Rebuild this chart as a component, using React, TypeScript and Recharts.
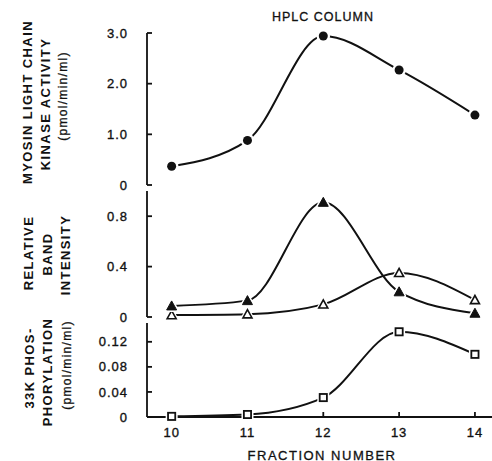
import React from 'react';
import { LineChart, Line, XAxis, YAxis } from 'recharts';

const fractions = [10, 11, 12, 13, 14];
const xTicks = [10, 11, 12, 13, 14];

const kinaseActivity = [0.37, 0.88, 2.94, 2.27, 1.38];
const bandFilled = [0.088, 0.13, 0.91, 0.2, 0.03];
const bandOpen = [0.015, 0.022, 0.1, 0.35, 0.135];
const phos33k = [0.001, 0.004, 0.031, 0.136, 0.1];

const kinaseTicks = [0, 1, 2, 3];
const kinaseTickLabels = ['0', '1.0', '2.0', '3.0'];
const bandTicks = [0, 0.4, 0.8];
const bandTickLabels = ['0', '0.4', '0.8'];
const phosTicks = [0, 0.04, 0.08, 0.12];
const phosTickLabels = ['0', '0.04', '0.08', '0.12'];

const kinaseData = fractions.map((x, i) => ({ x, v: kinaseActivity[i] }));
const bandData = fractions.map((x, i) => ({ x, f: bandFilled[i], o: bandOpen[i] }));
const phosData = fractions.map((x, i) => ({ x, v: phos33k[i] }));

const INK = '#111';
const FONT = '"Liberation Sans", Arial, Helvetica, sans-serif';
const xDomain: [number, number] = [9.675, 14.225];
const axisStroke = { stroke: INK, strokeWidth: 1.8 };
const tickStyle = { fill: INK, stroke: INK, strokeWidth: 0.35, fontSize: 13, fontFamily: FONT, letterSpacing: 1 };

const FilledCircle = (p: any) => (
  <g key={`c-${p.index}`}>
    <circle cx={p.cx} cy={p.cy} r={6.8} fill="#fff" />
    <circle cx={p.cx} cy={p.cy} r={4.5} fill={INK} />
  </g>
);
const triPts = (cx: number, cy: number, s: number) =>
  `${cx},${cy - s} ${cx - s},${cy + s * 0.8} ${cx + s},${cy + s * 0.8}`;
const FilledTri = (p: any) => (
  <g key={`ft-${p.index}`}>
    <polygon points={triPts(p.cx, p.cy, 5)} fill={INK} stroke="#fff" strokeWidth={4} strokeLinejoin="round" />
    <polygon points={triPts(p.cx, p.cy, 5)} fill={INK} stroke={INK} strokeWidth={1} />
  </g>
);
const OpenTri = (p: any) => (
  <g key={`ot-${p.index}`}>
    <polygon points={triPts(p.cx, p.cy, 4.5)} fill="#fff" stroke="#fff" strokeWidth={4} strokeLinejoin="round" />
    <polygon points={triPts(p.cx, p.cy, 4.5)} fill="#fff" stroke={INK} strokeWidth={1.6} />
  </g>
);
const OpenSquare = (p: any) => (
  <g key={`os-${p.index}`}>
    <rect x={p.cx - 6} y={p.cy - 6} width={12} height={12} fill="#fff" />
    <rect x={p.cx - 3.6} y={p.cy - 3.6} width={7.2} height={7.2} fill="#fff" stroke={INK} strokeWidth={1.8} />
  </g>
);

function panelAxes(
  domain: [number, number],
  ticks: number[],
  tickLabels: string[],
  showXLabels: boolean
) {
  return [
    <XAxis
      key="xb"
      xAxisId="b"
      type="number"
      dataKey="x"
      domain={xDomain}
      ticks={xTicks}
      interval={0}
      orientation="bottom"
      height={showXLabels ? 40 : 0}
      tickSize={-5}
      tickMargin={16}
      tickFormatter={(v: number) => (showXLabels ? String(v) : '')}
      tick={tickStyle}
      stroke={INK}
      axisLine={axisStroke}
      tickLine={axisStroke}
    />,
    <XAxis
      key="xt"
      xAxisId="t"
      type="number"
      dataKey="x"
      domain={xDomain}
      ticks={xTicks}
      interval={0}
      orientation="top"
      height={0}
      tickSize={-5}
      tickFormatter={() => ''}
      stroke={INK}
      axisLine={axisStroke}
      tickLine={axisStroke}
    />,
    <YAxis
      key="y"
      type="number"
      domain={domain}
      ticks={ticks}
      interval={0}
      width={147}
      tickSize={-5}
      tickMargin={24}
      tickFormatter={(v: number) => tickLabels[ticks.indexOf(v)] ?? ''}
      tick={tickStyle}
      stroke={INK}
      axisLine={axisStroke}
      tickLine={axisStroke}
    />,
  ];
}

const RotText = ({ x, y, children, bold = true, size = 13, ls = 1.4 }: any) => (
  <text
    x={x}
    y={y}
    transform={`rotate(-90, ${x}, ${y})`}
    textAnchor="middle"
    dominantBaseline="central"
    fontFamily={FONT}
    fontWeight={bold ? 'bold' : 'normal'}
    fontSize={size}
    letterSpacing={ls}
    fill={INK}
    stroke={bold ? 'none' : INK}
    strokeWidth={bold ? 0 : 0.3}
  >
    {children}
  </text>
);

export default function App() {
  return (
    <div style={{ position: 'absolute', left: 0, top: 0, width: 492, height: 461, background: '#fff' }}>
      <div style={{ position: 'absolute', left: 0, top: 0 }}>
        <LineChart width={492} height={197} data={kinaseData} margin={{ top: 33, right: 0, bottom: 12, left: 0 }}>
          {panelAxes([0, 3], kinaseTicks, kinaseTickLabels, false)}
          <Line xAxisId="b" type="monotone" dataKey="v" stroke={INK} strokeWidth={2} dot={FilledCircle} isAnimationActive={false} />
        </LineChart>
      </div>
      <div style={{ position: 'absolute', left: 0, top: 188 }}>
        <LineChart width={492} height={141} data={bandData} margin={{ top: 3, right: 0, bottom: 12, left: 0 }}>
          {panelAxes([0, 1], bandTicks, bandTickLabels, false)}
          <Line xAxisId="b" type="monotone" dataKey="o" stroke={INK} strokeWidth={2} dot={OpenTri} isAnimationActive={false} />
          <Line xAxisId="b" type="monotone" dataKey="f" stroke={INK} strokeWidth={2} dot={FilledTri} isAnimationActive={false} />
        </LineChart>
      </div>
      <div style={{ position: 'absolute', left: 0, top: 320 }}>
        <LineChart width={492} height={141} data={phosData} margin={{ top: 3, right: 0, bottom: 4, left: 0 }}>
          {panelAxes([0, 0.15], phosTicks, phosTickLabels, true)}
          <Line xAxisId="b" type="monotone" dataKey="v" stroke={INK} strokeWidth={2} dot={OpenSquare} isAnimationActive={false} />
        </LineChart>
      </div>
      <svg width={492} height={461} style={{ position: 'absolute', left: 0, top: 0, pointerEvents: 'none' }}>
        <text x={323} y={17} textAnchor="middle" dominantBaseline="central" fontFamily={FONT} fontSize={12.5} letterSpacing={1} fill={INK} stroke={INK} strokeWidth={0.3}>
          HPLC COLUMN
        </text>
        <text x={322} y={455} textAnchor="middle" dominantBaseline="central" fontFamily={FONT} fontSize={13} letterSpacing={1.5} fill={INK} stroke={INK} strokeWidth={0.3}>
          FRACTION NUMBER
        </text>
        <RotText x={27} y={102}>MYOSIN LIGHT CHAIN</RotText>
        <RotText x={45} y={104}>KINASE ACTIVITY</RotText>
        <RotText x={63} y={96} bold={false} size={12} ls={1.3}>(pmol/min/ml)</RotText>
        <RotText x={28} y={253}>RELATIVE</RotText>
        <RotText x={47} y={254}>BAND</RotText>
        <RotText x={65} y={255}>INTENSITY</RotText>
        <RotText x={29} y={368}>33K PHOS-</RotText>
        <RotText x={47} y={372}>PHORYLATION</RotText>
        <RotText x={67} y={365} bold={false} size={12} ls={1.3}>(pmol/min/ml)</RotText>
      </svg>
    </div>
  );
}
